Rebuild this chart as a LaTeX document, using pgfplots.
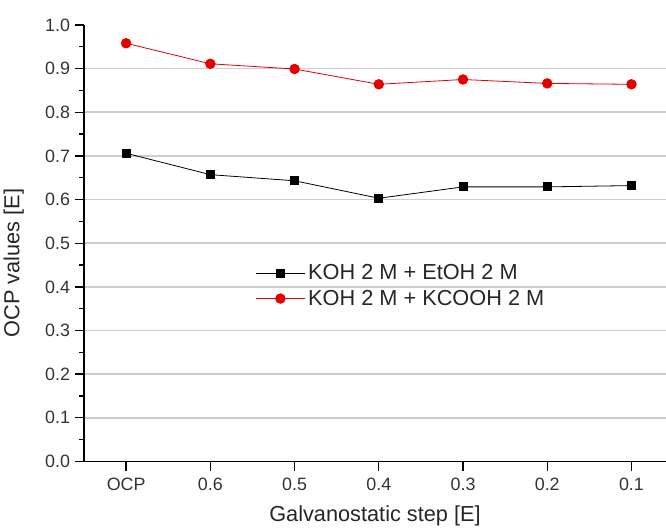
\documentclass[border=0pt]{standalone}
\usepackage{fontspec}
\setmainfont{Liberation Sans}
\usepackage{pgfplots}
\pgfplotsset{compat=1.18}

\definecolor{gridgray}{RGB}{205,205,205}
\definecolor{ocpred}{RGB}{228,0,0}

\begin{document}
\begin{tikzpicture}
\useasboundingbox (-63pt,-49.9pt) rectangle (436.5pt,346.1pt);
\begin{axis}[
    scale only axis,
    width=436.5pt, height=327.4pt,
    xmin=-0.5, xmax=6.41,
    ymin=0, ymax=1.0,
    axis x line*=bottom,
    axis y line*=left,
    axis line style={line width=1pt},
    xtick={0,1,2,3,4,5,6},
    xticklabels={OCP,0.6,0.5,0.4,0.3,0.2,0.1},
    ytick={0,0.1,0.2,0.3,0.4,0.5,0.6,0.7,0.8,0.9},
    extra y ticks={1.0},
    extra y tick style={grid=none},
    minor ytick={0.05,0.15,0.25,0.35,0.45,0.55,0.65,0.75,0.85,0.95},
    ymajorgrids,
    major grid style={gridgray, line width=1.3pt},
    tick align=outside,
    major tick length=7pt,
    minor tick length=3.5pt,
    tick style={black, line width=1pt},
    yticklabel style={/pgf/number format/.cd, fixed, fixed zerofill, precision=1},
    xticklabel style={yshift=-2pt},
    /pgf/number format/assume math mode=true,
    ticklabel style={font=\fontsize{13.4}{15}\selectfont, text=black!80},
    label style={font=\fontsize{16.3}{19}\selectfont, text=black!85},
    xlabel={Galvanostatic step [E]},
    xlabel style={yshift=-4pt},
    ylabel={OCP values [E]},
    ylabel style={at={(axis description cs:-0.095,0.455)}},
    legend style={at={(axis description cs:0.294,0.402)}, anchor=west,
        draw=none, fill=none, inner sep=0pt,
        font=\fontsize{16.3}{19}\selectfont, text=black!85,
        row sep=2pt},
    legend cell align=left,
    legend image code/.code={%
        \draw[mark repeat=2,mark phase=2] plot coordinates {(0cm,0cm) (0.65cm,0cm) (1.3cm,0cm)};},
]
\addplot[black, line width=0.6pt, mark=square*, mark size=3pt, mark options={solid}] coordinates {
    (0,0.706) (1,0.657) (2,0.643) (3,0.603) (4,0.629) (5,0.629) (6,0.632)
};
\addlegendentry{KOH 2 M + EtOH 2 M}
\addplot[ocpred, line width=0.6pt, mark=*, mark size=3.6pt, mark options={solid, fill=ocpred}] coordinates {
    (0,0.958) (1,0.911) (2,0.899) (3,0.864) (4,0.875) (5,0.866) (6,0.864)
};
\addlegendentry{KOH 2 M + KCOOH 2 M}
\end{axis}
\end{tikzpicture}
\end{document}
